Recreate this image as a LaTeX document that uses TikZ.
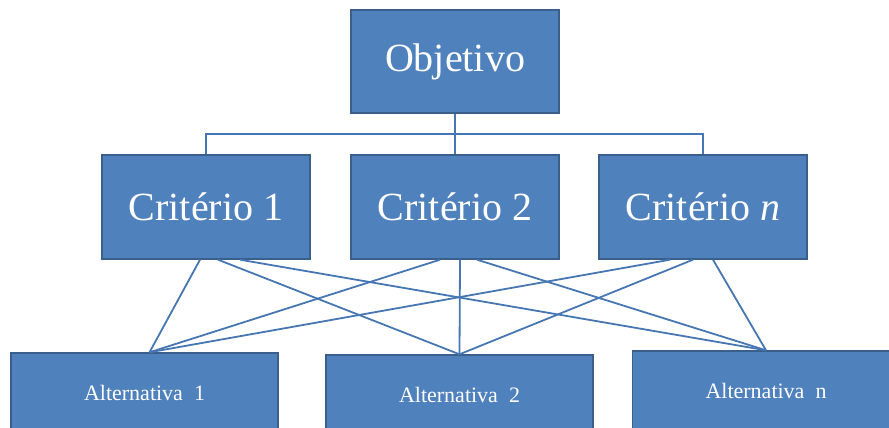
\documentclass[tikz,border=0pt]{standalone}
\usepackage{fontspec}
\setmainfont{Liberation Serif}
\usepackage{tikz}
\definecolor{boxblue}{HTML}{4F81BD}
\definecolor{boxline}{HTML}{3A5F8B}
\definecolor{linkblue}{HTML}{4677B3}

\begin{document}
\begin{tikzpicture}[x=1pt,y=-1pt,
	box/.style={draw=boxline,fill=boxblue,line width=1.4pt,text=white,inner sep=0pt,
		minimum width=208pt,minimum height=104pt,font=\fontsize{40}{44}\selectfont},
	altbox/.style={box,minimum width=267pt,minimum height=80pt,font=\fontsize{22}{26}\selectfont},
	link/.style={draw=linkblue,line width=1.8pt}]
			\clip (0,0) rectangle (889,428);
			% objetivo
			\node[box,minimum height=103pt] (obj) at (455,61.5) {Objetivo};
			% criterios
			\node[box] (c1) at (206,207) {Critério 1};
			\node[box] (c2) at (455,207) {Critério 2};
			\node[box] (cn) at (703,207) {Critério \textit{n}};
			% alternativas
			\node[altbox] (a1) at (144.5,393) {Alternativa\ \ 1};
			\node[altbox] (a2) at (459.5,395) {Alternativa\ \ 2};
			\node[altbox] (an) at (766,391) {Alternativa\ \ n};
			% arvore de cima
			\coordinate (bus) at (455,134);
			\draw[link] (obj.south) -- (c2.north);
			\draw[link] (c1.north) |- (bus) -| (cn.north);
			% criterios -- alternativas
			\draw[link] ([xshift=-6pt]c1.south) -- ([xshift=5pt]a1.north);
			\draw[link] ([xshift=12pt]c1.south) -- (a2.north);
			\draw[link] ([xshift=34pt]c1.south) -- (an.north);
			\draw[link] ([xshift=-15pt]c2.south) -- ([xshift=5pt]a1.north);
			\draw[link] ([xshift=5pt]c2.south) -- (a2.north);
			\draw[link] ([xshift=22pt]c2.south) -- (an.north);
			\draw[link] ([xshift=-33pt]cn.south) -- ([xshift=5pt]a1.north);
			\draw[link] ([xshift=-10pt]cn.south) -- (a2.north);
			\draw[link] ([xshift=10pt]cn.south) -- (an.north);
		\end{tikzpicture}
\end{document}
